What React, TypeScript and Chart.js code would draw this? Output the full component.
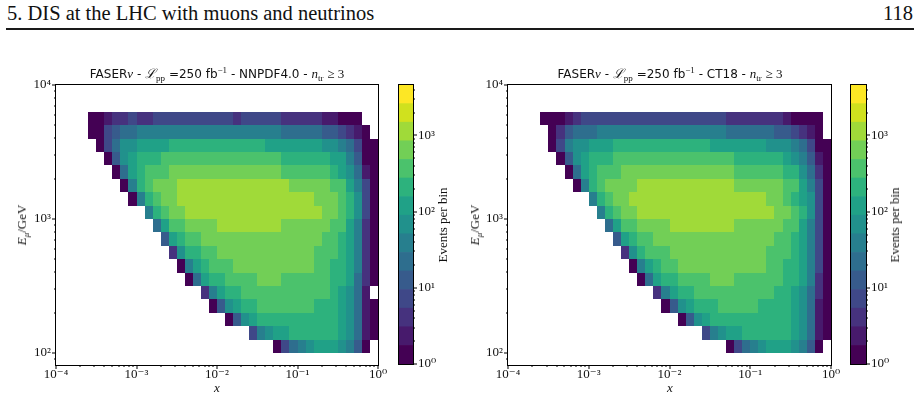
import React, { useEffect, useRef } from 'react';
import { Chart, registerables } from 'chart.js';

Chart.register(...registerables);

// ---------------- bin definitions (log10 lower edges) ----------------
const xBinLowerLog10 = [-3.6, -3.5, -3.4, -3.3, -3.2, -3.1, -3.0, -2.9, -2.8, -2.7, -2.6, -2.5, -2.4, -2.3, -2.2, -2.1, -2.0, -1.9, -1.8, -1.7, -1.6, -1.5, -1.4, -1.3, -1.2, -1.1, -1.0, -0.9, -0.8, -0.7, -0.6, -0.5, -0.4, -0.3, -0.2, -0.1];
const eBinLowerLog10 = [3.7, 3.6, 3.5, 3.4, 3.3, 3.2, 3.1, 3.0, 2.9, 2.8, 2.7, 2.6, 2.5, 2.4, 2.3, 2.2, 2.1, 2.0];
const binWidthLog10 = 0.1;

// ---------------- axis ranges & tick labels ----------------
const xRange = [1e-4, 1];
const yRange = [81.3, 1e4];
const cbRange = [1, 4600];
const cbLevels = 15;
const xTickValues = [1e-4, 1e-3, 1e-2, 1e-1, 1];
const yTickValues = [1e2, 1e3, 1e4];
const cbTickValues = [1, 10, 100, 1000];

// ---------------- events per bin, NNPDF4.0 (rows from high E to low E) ----------------
const nnpdf_E3p7 = [1,1,2,4,4,7,4,4,7,7,7,7,7,7,7,7,7,7,4,7,7,7,7,7,4,4,4,4,4,2,2,1,1,1,0,0];
const nnpdf_E3p6 = [1,1,7,13,22,22,39,39,39,39,39,39,39,39,39,39,39,39,39,39,39,39,39,39,22,22,22,22,22,13,13,7,4,2,1,0];
const nnpdf_E3p5 = [0,1,7,22,69,69,120,120,120,120,210,210,210,210,210,210,210,210,210,210,210,210,120,120,120,120,120,120,120,69,69,39,22,7,1,1];
const nnpdf_E3p4 = [0,0,1,13,69,120,210,210,210,380,380,380,380,380,380,380,380,380,380,380,380,380,380,380,210,210,210,210,210,210,120,120,39,13,1,1];
const nnpdf_E3p3 = [0,0,0,1,22,120,210,380,380,380,660,660,660,660,660,660,660,660,660,660,660,660,660,660,380,380,380,380,380,380,210,120,69,22,2,1];
const nnpdf_E3p2 = [0,0,0,0,1,39,210,380,660,660,660,1200,1200,1200,1200,1200,1200,1200,1200,1200,1200,1200,1200,1200,1200,660,660,660,660,660,380,380,120,39,7,1];
const nnpdf_E3p1 = [0,0,0,0,0,1,39,210,380,660,660,1200,1200,1200,1200,1200,1200,1200,1200,1200,1200,1200,1200,1200,1200,1200,1200,1200,660,660,660,380,210,69,7,1];
const nnpdf_E3p0 = [0,0,0,0,0,0,0,39,210,380,660,660,1200,1200,1200,1200,1200,1200,1200,1200,1200,1200,1200,1200,1200,1200,1200,1200,1200,660,660,380,210,69,7,1];
const nnpdf_E2p9 = [0,0,0,0,0,0,0,0,22,120,380,380,660,660,660,660,1200,1200,1200,1200,1200,1200,1200,1200,660,660,660,660,660,660,380,380,120,39,4,1];
const nnpdf_E2p8 = [0,0,0,0,0,0,0,0,0,13,120,210,380,380,660,660,660,660,660,660,660,660,660,660,660,660,660,660,660,380,380,210,120,39,4,1];
const nnpdf_E2p7 = [0,0,0,0,0,0,0,0,0,0,4,69,210,210,380,380,660,660,660,660,660,660,660,660,660,660,660,660,380,380,380,210,120,39,4,1];
const nnpdf_E2p6 = [0,0,0,0,0,0,0,0,0,0,0,1,39,120,210,380,380,380,660,660,660,660,660,660,660,660,660,660,380,380,210,210,120,39,4,1];
const nnpdf_E2p5 = [0,0,0,0,0,0,0,0,0,0,0,0,1,22,120,210,210,380,380,380,380,660,660,660,380,380,380,380,380,380,210,210,120,22,4,1];
const nnpdf_E2p4 = [0,0,0,0,0,0,0,0,0,0,0,0,0,0,4,39,120,210,210,380,380,380,380,380,380,380,380,380,380,380,210,120,69,22,2,0];
const nnpdf_E2p3 = [0,0,0,0,0,0,0,0,0,0,0,0,0,0,0,1,13,69,120,210,210,380,380,380,380,380,380,380,210,210,210,120,69,22,2,1];
const nnpdf_E2p2 = [0,0,0,0,0,0,0,0,0,0,0,0,0,0,0,0,0,1,13,69,120,210,210,210,210,210,210,210,210,210,210,120,69,22,2,1];
const nnpdf_E2p1 = [0,0,0,0,0,0,0,0,0,0,0,0,0,0,0,0,0,0,0,0,7,39,69,120,120,210,210,210,210,210,210,120,69,22,2,1];
const nnpdf_E2p0 = [0,0,0,0,0,0,0,0,0,0,0,0,0,0,0,0,0,0,0,0,0,0,0,1,7,22,39,69,120,120,120,69,39,13,1,0];

// ---------------- events per bin, CT18 (rows from high E to low E) ----------------
const ct18_E3p7 = [1,1,1,2,4,7,7,7,7,7,7,7,7,7,7,7,7,7,7,7,7,7,7,4,4,4,4,4,4,4,2,1,1,1,1,0];
const ct18_E3p6 = [0,1,4,13,22,22,22,39,39,39,39,39,39,39,39,39,39,39,39,39,39,39,39,22,22,22,22,22,22,13,13,7,4,2,1,0];
const ct18_E3p5 = [0,1,7,39,69,69,120,120,120,210,210,210,210,210,210,210,210,210,210,210,210,120,120,120,120,120,120,120,69,69,69,39,22,7,1,1];
const ct18_E3p4 = [0,0,1,13,69,120,210,210,210,380,380,380,380,380,380,380,380,380,380,380,380,380,380,380,210,210,210,210,210,210,120,69,39,13,2,1];
const ct18_E3p3 = [0,0,0,1,22,120,210,380,380,380,660,660,660,660,660,660,660,660,660,660,660,660,660,660,380,380,380,380,380,380,210,210,69,22,4,1];
const ct18_E3p2 = [0,0,0,0,1,39,210,380,660,660,660,660,1200,1200,1200,1200,1200,1200,1200,1200,1200,1200,1200,1200,660,660,660,660,660,660,380,380,120,39,7,1];
const ct18_E3p1 = [0,0,0,0,0,0,39,210,380,660,660,1200,1200,1200,1200,1200,1200,1200,1200,1200,1200,1200,1200,1200,1200,1200,1200,1200,660,660,380,210,120,69,7,1];
const ct18_E3p0 = [0,0,0,0,0,0,0,39,210,380,660,660,1200,1200,1200,1200,1200,1200,1200,1200,1200,1200,1200,1200,1200,1200,1200,1200,1200,660,660,380,210,69,7,1];
const ct18_E2p9 = [0,0,0,0,0,0,0,0,22,120,380,380,660,660,660,660,1200,1200,1200,1200,1200,1200,1200,1200,660,660,660,660,660,660,380,380,120,39,7,1];
const ct18_E2p8 = [0,0,0,0,0,0,0,0,0,13,120,210,380,380,660,660,660,660,660,660,660,660,660,660,660,660,660,660,660,380,380,210,120,39,7,1];
const ct18_E2p7 = [0,0,0,0,0,0,0,0,0,0,4,69,210,380,380,380,660,660,660,660,660,660,660,660,660,660,660,660,380,380,380,210,120,39,7,1];
const ct18_E2p6 = [0,0,0,0,0,0,0,0,0,0,0,1,39,120,210,380,380,660,660,660,660,660,660,660,660,660,660,660,380,380,210,210,120,39,7,1];
const ct18_E2p5 = [0,0,0,0,0,0,0,0,0,0,0,0,1,22,120,210,210,380,380,380,380,660,660,660,380,380,380,380,380,380,210,210,120,39,4,1];
const ct18_E2p4 = [0,0,0,0,0,0,0,0,0,0,0,0,0,0,4,39,120,210,210,380,380,380,380,380,380,380,380,380,380,210,210,120,69,22,4,1];
const ct18_E2p3 = [0,0,0,0,0,0,0,0,0,0,0,0,0,0,0,1,13,69,120,210,210,210,380,380,380,380,380,210,210,210,210,120,69,22,2,1];
const ct18_E2p2 = [0,0,0,0,0,0,0,0,0,0,0,0,0,0,0,0,0,1,13,69,120,210,210,210,210,210,210,210,210,210,210,120,69,22,2,1];
const ct18_E2p1 = [0,0,0,0,0,0,0,0,0,0,0,0,0,0,0,0,0,0,0,0,7,39,69,120,120,210,210,210,210,210,210,120,69,22,2,1];
const ct18_E2p0 = [0,0,0,0,0,0,0,0,0,0,0,0,0,0,0,0,0,0,0,0,0,0,0,1,7,22,39,69,120,120,120,69,39,13,1,0];

const nnpdfRows = [nnpdf_E3p7, nnpdf_E3p6, nnpdf_E3p5, nnpdf_E3p4, nnpdf_E3p3, nnpdf_E3p2, nnpdf_E3p1, nnpdf_E3p0, nnpdf_E2p9, nnpdf_E2p8, nnpdf_E2p7, nnpdf_E2p6, nnpdf_E2p5, nnpdf_E2p4, nnpdf_E2p3, nnpdf_E2p2, nnpdf_E2p1, nnpdf_E2p0];
const ct18Rows = [ct18_E3p7, ct18_E3p6, ct18_E3p5, ct18_E3p4, ct18_E3p3, ct18_E3p2, ct18_E3p1, ct18_E3p0, ct18_E2p9, ct18_E2p8, ct18_E2p7, ct18_E2p6, ct18_E2p5, ct18_E2p4, ct18_E2p3, ct18_E2p2, ct18_E2p1, ct18_E2p0];

// ---------------- styling ----------------
const SERIF = "'Liberation Serif', 'DejaVu Serif', serif";
const SANS = "'DejaVu Sans', sans-serif";
const VIRIDIS = ['#440154', '#471365', '#482475', '#463480', '#414487', '#3b528b', '#355f8d', '#2f6c8e', '#2a788e', '#25848e', '#21918c', '#1e9c89', '#22a884', '#2fb47c', '#44bf70', '#5ec962', '#7ad151', '#9bd93c', '#bddf26', '#dfe318', '#fde725'];

function hexToRgb(h: string) {
  return [parseInt(h.slice(1, 3), 16), parseInt(h.slice(3, 5), 16), parseInt(h.slice(5, 7), 16)];
}
function viridis(t: number) {
  const p = Math.max(0, Math.min(1, t)) * (VIRIDIS.length - 1);
  const i = Math.min(VIRIDIS.length - 2, Math.floor(p));
  const f = p - i;
  const a = hexToRgb(VIRIDIS[i]);
  const b = hexToRgb(VIRIDIS[i + 1]);
  const c = a.map((v, k) => Math.round(v + (b[k] - v) * f));
  return `rgb(${c[0]},${c[1]},${c[2]})`;
}
function levelColor(level: number) {
  return viridis(level / (cbLevels - 1));
}
function levelOf(v: number) {
  const l = Math.floor((Math.log10(v) / Math.log10(cbRange[1])) * cbLevels);
  return Math.max(0, Math.min(cbLevels - 1, l));
}

const SUP: Record<string, string> = { '-': '\u207B', '0': '\u2070', '1': '\u00B9', '2': '\u00B2', '3': '\u00B3', '4': '\u2074', '5': '\u2075', '6': '\u2076', '7': '\u2077', '8': '\u2078', '9': '\u2079' };
function pow10Label(v: number) {
  const e = Math.round(Math.log10(v));
  return '10' + String(e).split('').map((ch) => SUP[ch]).join('');
}

function logTickList(min: number, max: number) {
  const out: { v: number; major: boolean }[] = [];
  for (let d = Math.floor(Math.log10(min)); d <= Math.ceil(Math.log10(max)); d++) {
    for (let m = 1; m <= 9; m++) {
      const v = m * Math.pow(10, d);
      if (v >= min * 0.9999 && v <= max * 1.0001) out.push({ v, major: m === 1 });
    }
  }
  return out;
}

function buildCells(rows: number[][]) {
  const pts: any[] = [];
  rows.forEach((row, r) => {
    const ly = eBinLowerLog10[r];
    row.forEach((v, c) => {
      if (!(v > 0)) return;
      const lx = xBinLowerLog10[c];
      pts.push({
        x: Math.pow(10, lx + binWidthLog10 / 2),
        y: Math.pow(10, ly + binWidthLog10 / 2),
        x0: Math.pow(10, lx),
        x1: Math.pow(10, lx + binWidthLog10),
        y0: Math.pow(10, ly),
        y1: Math.pow(10, ly + binWidthLog10),
        v,
      });
    });
  });
  return pts;
}

const cellsPlugin = {
  id: 'heatCells',
  beforeDatasetsDraw(chart: any) {
    const { ctx, chartArea: a, scales } = chart;
    const xs = scales.x;
    const ys = scales.y;
    ctx.save();
    ctx.beginPath();
    ctx.rect(a.left, a.top, a.right - a.left, a.bottom - a.top);
    ctx.clip();
    for (const p of chart.data.datasets[0].data) {
      const px0 = Math.round(xs.getPixelForValue(p.x0));
      const px1 = Math.round(xs.getPixelForValue(p.x1));
      const py0 = Math.round(ys.getPixelForValue(p.y0));
      const py1 = Math.round(ys.getPixelForValue(p.y1));
      ctx.fillStyle = levelColor(levelOf(p.v));
      ctx.fillRect(px0, py1, px1 - px0, py0 - py1);
    }
    ctx.restore();
  },
};

function framePlugin(kind: 'heat' | 'cb') {
  return {
    id: 'frameTicks',
    afterDraw(chart: any) {
      const { ctx, chartArea: a, scales } = chart;
      ctx.save();
      ctx.fillStyle = '#000';
      ctx.strokeStyle = '#000';
      ctx.lineWidth = 1;
      const L = Math.round(a.left), R = Math.round(a.right), T = Math.round(a.top), B = Math.round(a.bottom);
      ctx.strokeRect(L - 0.5, T - 0.5, R - L + 1, B - T + 1);
      if (kind === 'heat') {
        for (const t of logTickList(xRange[0], xRange[1])) {
          const px = Math.round(scales.x.getPixelForValue(t.v));
          ctx.fillRect(px - 0.5, B, 1, t.major ? 4 : 2);
        }
        for (const t of logTickList(yRange[0], yRange[1])) {
          const py = Math.round(scales.y.getPixelForValue(t.v));
          const len = t.major ? 4 : 2;
          ctx.fillRect(L - len, py - 0.5, len, 1);
        }
      } else {
        for (const t of logTickList(cbRange[0], cbRange[1])) {
          const py = Math.round(scales.y.getPixelForValue(t.v));
          ctx.fillRect(R, py - 0.5, t.major ? 4 : 2, 1);
        }
      }
      ctx.restore();
    },
  };
}

const tickFont = { family: SERIF, size: 13 };

function heatConfig(rows: number[][], yAxisWidth: number, rightPad: number) {
  return {
    type: 'scatter',
    data: { datasets: [{ data: buildCells(rows), pointRadius: 0, pointHoverRadius: 0, showLine: false }] },
    options: {
      responsive: false,
      animation: false,
      events: [],
      layout: { padding: { left: 0, top: 25, right: rightPad, bottom: 0 } },
      plugins: { legend: { display: false }, tooltip: { enabled: false }, title: { display: false } },
      scales: {
        x: {
          type: 'logarithmic',
          min: xRange[0],
          max: xRange[1],
          grid: { display: false, drawTicks: false },
          border: { display: false },
          ticks: { autoSkip: false, maxRotation: 0, minRotation: 0, padding: 2, color: '#111', font: tickFont, callback: (v: number) => pow10Label(v) },
          afterBuildTicks: (s: any) => { s.ticks = xTickValues.map((value) => ({ value })); },
          afterFit: (s: any) => { s.height = 35; },
        },
        y: {
          type: 'logarithmic',
          min: yRange[0],
          max: yRange[1],
          grid: { display: false, drawTicks: false },
          border: { display: false },
          ticks: { autoSkip: false, padding: 5, color: '#111', font: tickFont, callback: (v: number) => pow10Label(v) },
          afterBuildTicks: (s: any) => { s.ticks = yTickValues.map((value) => ({ value })); },
          afterFit: (s: any) => { s.width = yAxisWidth; },
        },
      },
    },
    plugins: [cellsPlugin, framePlugin('heat')],
  };
}

function cbConfig(leftPad: number, axisWidth: number) {
  const edges: number[] = [];
  for (let i = 0; i <= cbLevels; i++) edges.push(Math.pow(10, (i * Math.log10(cbRange[1])) / cbLevels));
  return {
    type: 'bar',
    data: {
      labels: ['Events per bin'],
      datasets: edges.slice(0, -1).map((lo, i) => ({
        data: [[lo, edges[i + 1]]],
        backgroundColor: levelColor(i),
        borderWidth: 0,
        grouped: false,
        barPercentage: 1,
        categoryPercentage: 1,
      })),
    },
    options: {
      responsive: false,
      animation: false,
      events: [],
      layout: { padding: { left: leftPad, top: 25, right: 0, bottom: 36 } },
      plugins: { legend: { display: false }, tooltip: { enabled: false } },
      scales: {
        x: { display: false },
        y: {
          type: 'logarithmic',
          position: 'right',
          min: cbRange[0],
          max: cbRange[1],
          grid: { display: false, drawTicks: false },
          border: { display: false },
          ticks: { autoSkip: false, padding: 5, color: '#111', font: tickFont, callback: (v: number) => pow10Label(v) },
          afterBuildTicks: (s: any) => { s.ticks = cbTickValues.map((value) => ({ value })); },
          afterFit: (s: any) => { s.width = axisWidth; },
        },
      },
    },
    plugins: [framePlugin('cb')],
  };
}

function ChartCanvas({ left, top, width, height, make }: any) {
  const ref = useRef<HTMLCanvasElement>(null);
  useEffect(() => {
    const chart = new Chart(ref.current as HTMLCanvasElement, make());
    return () => chart.destroy();
  }, []);
  return <canvas ref={ref} width={width} height={height} style={{ position: 'absolute', left, top, width, height }} />;
}

const mathI: React.CSSProperties = { fontFamily: SERIF, fontStyle: 'italic' };
const subS: React.CSSProperties = { fontFamily: SERIF, fontSize: 9, position: 'relative', top: 3 };
const supS: React.CSSProperties = { fontFamily: SERIF, fontSize: 9, position: 'relative', top: -5 };

function Panel({ rows, pdf, g }: any) {
  const heatLeft = g.canvasLeft;
  const cbCanvasLeft = g.cbLeft - 12;
  const cbCanvasWidth = 70;
  return (
    <>
      <ChartCanvas left={heatLeft} top={60} width={400} height={340} make={() => heatConfig(rows, g.axesLeft - heatLeft, heatLeft + 400 - g.axesRight)} />
      <ChartCanvas left={cbCanvasLeft} top={60} width={cbCanvasWidth} height={340} make={() => cbConfig(12, cbCanvasWidth - 12 - (g.cbRight - g.cbLeft))} />
      <div style={{ position: 'absolute', left: g.titleCx, top: 67, transform: 'translateX(-50%)', whiteSpace: 'nowrap', fontFamily: SANS, fontSize: 12, lineHeight: '14px', color: '#111' }}>
        FASER<span style={{ ...mathI, fontSize: 13 }}>ν</span> - <span style={{ ...mathI, fontSize: 13 }}>ℒ</span><span style={subS}>pp</span> =250 fb<span style={supS}>−1</span> - {pdf} - <span style={{ ...mathI, fontSize: 13 }}>n</span><span style={subS}>tr</span> <span style={{ fontFamily: SERIF, fontSize: 13 }}>≥ 3</span>
      </div>
      <div style={{ position: 'absolute', left: g.yLabelCx, top: 225, transform: 'translate(-50%, -50%) rotate(-90deg)', whiteSpace: 'nowrap', fontFamily: SERIF, fontSize: 13, color: '#111' }}>
        <span style={{ fontStyle: 'italic' }}>E</span><span style={{ ...subS, fontStyle: 'italic' }}>μ</span>/GeV
      </div>
      <div style={{ position: 'absolute', left: g.axesCx, top: 388, transform: 'translate(-50%, -50%)', fontFamily: SERIF, fontStyle: 'italic', fontSize: 13, color: '#111' }}>x</div>
      <div style={{ position: 'absolute', left: g.cbLabelCx, top: 225, transform: 'translate(-50%, -50%) rotate(-90deg)', whiteSpace: 'nowrap', fontFamily: SERIF, fontSize: 13, color: '#111' }}>
        Events per bin
      </div>
    </>
  );
}

const leftGeo = { canvasLeft: 0, axesLeft: 56, axesRight: 378, axesCx: 217, cbLeft: 399, cbRight: 413, titleCx: 217, yLabelCx: 22, cbLabelCx: 443 };
const rightGeo = { canvasLeft: 460, axesLeft: 508, axesRight: 831, axesCx: 670, cbLeft: 851, cbRight: 866, titleCx: 670, yLabelCx: 475, cbLabelCx: 895 };

export default function App() {
  return (
    <div style={{ position: 'absolute', left: 0, top: 0, width: 920, height: 400, background: '#fff', overflow: 'hidden' }}>
      <div style={{ position: 'absolute', left: 7, top: 1, fontFamily: SERIF, fontSize: 20.5, lineHeight: '24px', color: '#111', whiteSpace: 'nowrap' }}>
        5. DIS at the LHC with muons and neutrinos
      </div>
      <div style={{ position: 'absolute', right: 7, top: 1, fontFamily: SERIF, fontSize: 20.5, lineHeight: '24px', color: '#111' }}>118</div>
      <div style={{ position: 'absolute', left: 6, top: 28, width: 908, height: 2, background: '#1a1a1a' }} />
      <Panel rows={nnpdfRows} pdf="NNPDF4.0" g={leftGeo} />
      <Panel rows={ct18Rows} pdf="CT18" g={rightGeo} />
    </div>
  );
}
